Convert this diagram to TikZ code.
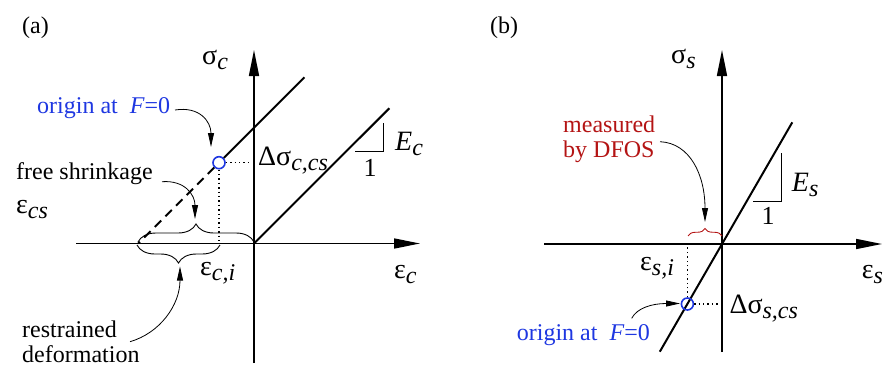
\documentclass[tikz,border=0pt]{standalone}
\usepackage{fontspec}
\setmainfont{Liberation Serif}
\usetikzlibrary{arrows.meta,decorations.pathreplacing}
\definecolor{oblue}{RGB}{30,55,225}
\definecolor{mred}{RGB}{180,20,20}
\newcommand{\glab}[2]{{\fontsize{28}{28}\selectfont #1}\raisebox{-5pt}{\fontsize{24}{24}\selectfont\itshape #2}}
\begin{document}
\begin{tikzpicture}[x=1pt,y=-1pt,
  axis/.style={line width=1.6pt,-{Triangle[length=26pt,width=10pt]}},
  charline/.style={line width=2pt},
  tri/.style={line width=1pt},
  ann/.style={line width=0.8pt,-{Triangle[length=14pt,width=6pt]}},
  txt/.style={font=\rmfamily\fontsize{24}{25}\selectfont, inner sep=0pt, anchor=base west},
  lab/.style={font=\rmfamily, inner sep=0pt, anchor=base west},
  dotl/.style={line width=1.4pt, dash pattern=on 1.4pt off 3pt},
  brc/.style={decorate, decoration={brace,amplitude=18pt}, line width=0.9pt},
  ocirc/.style={circle, draw=oblue, line width=1.6pt, minimum size=12pt, inner sep=0pt},
]
\useasboundingbox (0,0) rectangle (883,367);

% panel labels
\node[txt] (la) at (22,33) {(a)};
\node[txt] (lb) at (490,33) {(b)};

% ---------------- panel (a)
\coordinate (Oa) at (254,243.5);
\coordinate (xa0) at (76,243.5);
\coordinate (xa1) at (420,243.5);
\coordinate (ya0) at (254,363);
\coordinate (ya1) at (254,50);
\draw[axis] (xa0) -- (xa1);
\draw[axis] (ya0) -- (ya1);

\node[ocirc] (ca) at (219,162.7) {};
\coordinate (ta) at (304.4,77.3);
\coordinate (da) at (138.2,243.5);
\draw[charline] (ca) -- (ta);
\draw[charline, dash pattern=on 9pt off 6pt] (ca) -- (da);
\coordinate (tb) at (389.3,108.3);
\draw[charline] (Oa) -- (tb);

\coordinate (hya) at (252,162.7);
\coordinate (vxa) at (219,243.5);
\draw[dotl] (ca) -- (hya);
\draw[dotl] (ca) -- (vxa);

\coordinate (sa1) at (383.3,123.3);
\coordinate (sa2) at (383.3,151);
\coordinate (sa3) at (355,151);
\draw[tri] (sa1) -- (sa2) -- (sa3);

\node[lab] (Ec) at (395,150.7) {\glab{\textit{E}}{c}};
\node[lab, anchor=base] (onea) at (370,176) {\fontsize{26}{26}\selectfont 1};
\node[lab] (dsc) at (258,165) {\glab{Δσ}{c,cs}};
\node[lab] (sc) at (202,64) {\glab{σ}{c}};
\node[lab] (ec) at (394,278) {\glab{ε}{c}};
\node[lab] (eci) at (200,275) {\glab{ε}{c,i}};
\node[lab] (ecs) at (16,213) {\glab{ε}{cs}};

\node[txt] (fs) at (16,179) {free shrinkage};
\node[txt, text=oblue] (oa) at (37,113) {origin at~ \textit{F}=0};
\node[txt, align=left] (rd) at (22,362) {restrained\\deformation};

\coordinate (bu1) at (138,242);
\coordinate (bu2) at (254,242);
\draw[brc] (bu1) -- (bu2);
\coordinate (bl1) at (220,245);
\coordinate (bl2) at (137,245);
\draw[brc] (bl1) -- (bl2);

\coordinate (s1) at (175,110);
\coordinate (e1) at (211,147);
\draw[ann] (s1) .. controls (200,106) and (211,122) .. (e1);
\coordinate (s2) at (162,181.7);
\coordinate (e2) at (195,219);
\draw[ann] (s2) .. controls (185,180) and (195,195) .. (e2);
\coordinate (s3) at (130,341.7);
\coordinate (e3) at (180,266.5);
\draw[ann] (s3) .. controls (160,333) and (180,305) .. (e3);

% ---------------- panel (b)
\coordinate (Ob) at (722,244);
\coordinate (xb0) at (544,244);
\coordinate (xb1) at (882,244);
\coordinate (yb0) at (722,352);
\coordinate (yb1) at (722,50);
\draw[axis] (xb0) -- (xb1);
\draw[axis] (yb0) -- (yb1);

\coordinate (lb0) at (659.8,351.7);
\coordinate (lb1) at (792.3,122.3);
\draw[charline] (lb0) -- (lb1);
\node[ocirc] (cb) at (687.4,304) {};
\coordinate (vxb) at (687.4,246);
\coordinate (hyb) at (719,304);
\draw[dotl, line width=1pt] (cb) -- (vxb);
\draw[dotl] (cb) -- (hyb);

\coordinate (sb1) at (781.7,153.3);
\coordinate (sb2) at (781.7,201.7);
\coordinate (sb3) at (753.3,201.7);
\draw[tri] (sb1) -- (sb2) -- (sb3);

\node[lab] (Es) at (791.7,191.7) {\glab{\textit{E}}{s}};
\node[lab, anchor=base] (oneb) at (768,224) {\fontsize{26}{26}\selectfont 1};
\node[lab] (ss) at (671,63.3) {\glab{σ}{s}};
\node[lab] (es) at (861.7,278) {\glab{ε}{s}};
\node[lab] (esi) at (640,270) {\glab{ε}{s,i}};
\node[lab] (dss) at (729.3,313.3) {\glab{Δσ}{s,cs}};

\node[txt, text=mred, align=left] (md) at (563,157) {measured\\by DFOS};
\node[txt, text=oblue] (ob) at (516.7,340.7) {origin at~ \textit{F}=0};

\coordinate (br1) at (688,236);
\coordinate (br2) at (722,236);
\draw[brc, draw=mred, decoration={brace,amplitude=7.5pt}] (br1) -- (br2);

\coordinate (s4) at (660,141.7);
\coordinate (e4) at (705,222);
\draw[ann] (s4) .. controls (690,143) and (705,175) .. (e4);
\coordinate (s5) at (631.7,318.3);
\coordinate (e5) at (680,303.5);
\draw[ann] (s5) .. controls (637,308) and (652,303.5) .. (e5);
\end{tikzpicture}
\end{document}
